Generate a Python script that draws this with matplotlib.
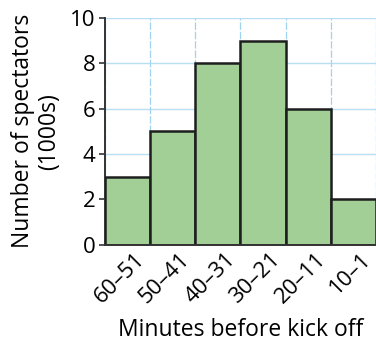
import numpy as np
import matplotlib.pyplot as plt

# spectators arriving (in 1000s) per 10-minute interval before kick off
intervals = ['60–51', '50–41', '40–31', '30–21', '20–11', '10–1']
spectators = [3, 5, 8, 9, 6, 2]
y_ticks = [0, 2, 4, 6, 8, 10]

plt.rcParams['font.family'] = ['Open Sans', 'DejaVu Sans']

fig = plt.figure(figsize=(3.76, 3.43), dpi=100)
ax = fig.add_axes([0.279, 0.286, 0.721, 0.662])

x = np.arange(len(intervals))
ax.bar(x, spectators, width=1.0, color='#a2cf96', edgecolor='#1e1e1e',
       linewidth=1.8, zorder=3)

ax.set_xlim(-0.5, len(intervals) - 0.5)
ax.set_ylim(0, 10)
ax.set_yticks(y_ticks)
ax.set_xticks(x + 0.15)
ax.set_xticklabels(intervals, rotation=45, ha='right', rotation_mode='anchor',
                   fontsize=16)
ax.tick_params(axis='y', labelsize=16, length=4, width=1.2, color='#333333',
               pad=3)
ax.tick_params(axis='x', length=0, pad=3)

# light blue grid on bar edges and y ticks
ax.set_xticks(np.arange(len(intervals) + 1) - 0.5, minor=True)
ax.grid(which='minor', axis='x', color='#9fd3ee', linewidth=0.9,
        linestyle=(0, (6, 1.5)), zorder=0)
ax.tick_params(axis='x', which='minor', length=0)
ax.grid(which='major', axis='y', color='#a8d8f0', linewidth=1.0, alpha=0.8,
        zorder=4)

for s in ['top', 'right']:
    ax.spines[s].set_visible(False)
ax.spines['left'].set_color('#333333')
ax.spines['left'].set_linewidth(1.4)
ax.spines['bottom'].set_color('#333333')
ax.spines['bottom'].set_linewidth(1.4)
ax.spines['bottom'].set_zorder(5)

ax.set_xlabel('Minutes before kick off', fontsize=16.5, labelpad=7)
ax.set_ylabel('Number of spectators\n(1000s)', fontsize=16.5, labelpad=6,
              linespacing=1.15)

fig.savefig('out.png', dpi=100)
